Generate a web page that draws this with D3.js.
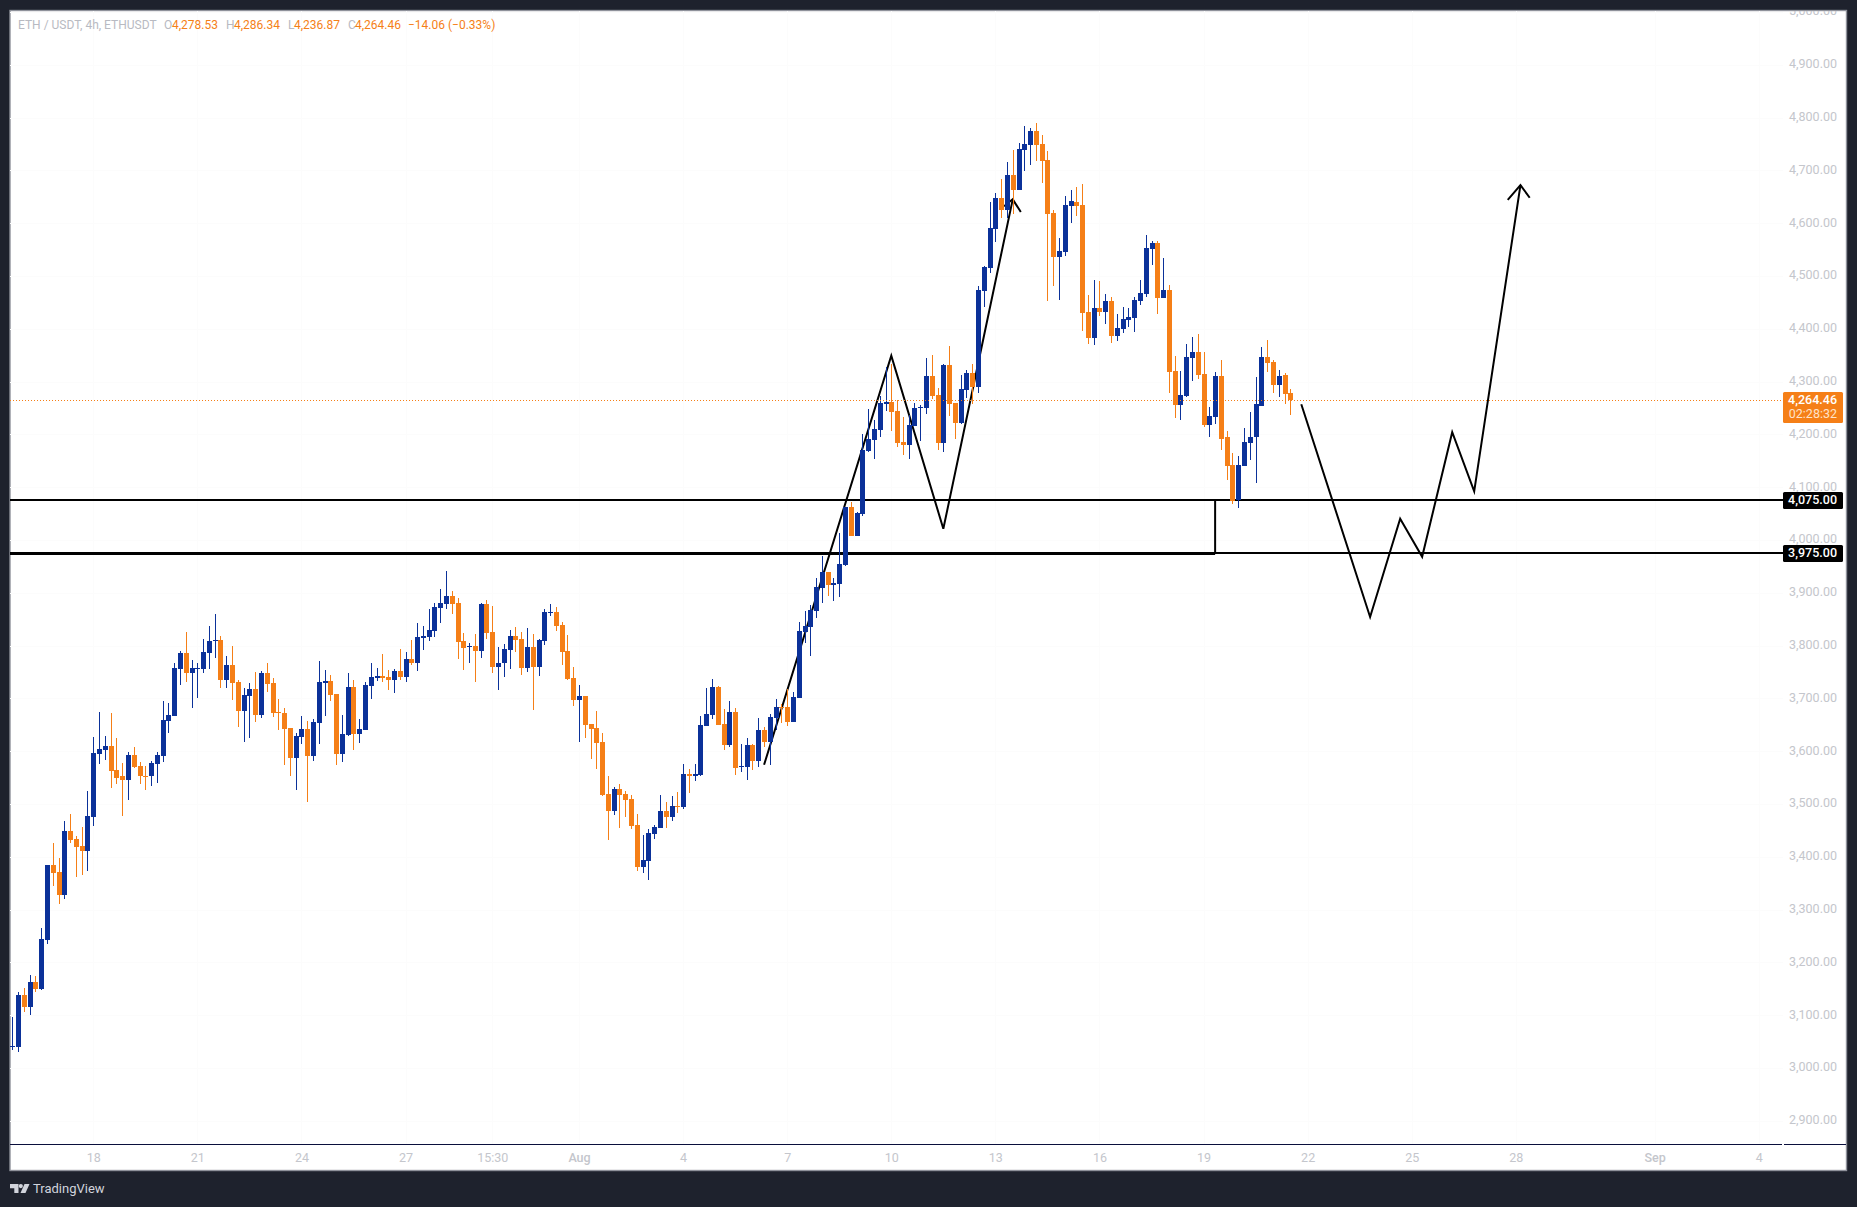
<!DOCTYPE html>
<html><head><meta charset="utf-8">
<script src="https://cdn.jsdelivr.net/npm/d3@7"></script>
<style>html,body{margin:0;padding:0;background:#1e222d;overflow:hidden}svg{display:block}text{font-family:Roboto,sans-serif}</style>
</head><body><svg id="c" width="1857" height="1207"></svg>
<script>
const opens=[3040,3040,3139,3115,3162,3150,3242,3384,3371,3328,3449,3434,3420,3411,3475,3594,3602,3610,3565,3552,3546,3592,3571,3553,3552,3575,3590,3657,3667,3756,3785,3748,3757,3756,3785,3808,3810,3735,3764,3731,3676,3704,3718,3668,3747,3729,3674,3672,3644,3587,3627,3642,3590,3653,3729,3733,3708,3594,3630,3722,3632,3640,3724,3739,3743,3741,3735,3752,3741,3775,3767,3814,3816,3827,3871,3879,3894,3881,3808,3797,3799,3789,3879,3825,3760,3766,3791,3818,3812,3758,3797,3760,3808,3862,3863,3839,3789,3739,3697,3705,3651,3644,3617,3519,3487,3529,3519,3510,3460,3380,3392,3443,3454,3487,3475,3496,3494,3557,3552,3555,3647,3668,3722,3651,3611,3674,3570,3570,3611,3581,3640,3617,3663,3684,3684,3655,3701,3825,3835,3865,3909,3940,3915,3917,3953,4062,4007,4049,4169,4190,4208,4257,4261,4244,4186,4180,4215,4250,4250,4311,4274,4184,4331,4259,4221,4284,4316,4290,4471,4515,4589,4647,4624,4691,4662,4739,4748,4775,4750,4720,4619,4536,4545,4632,4640,4634,4431,4383,4439,4431,4452,4387,4400,4416,4420,4452,4466,4551,4563,4458,4473,4320,4255,4272,4345,4356,4314,4217,4233,4311,4194,4142,4076,4140,4184,4194,4253,4347,4337,4293,4312,4278.53];
const highs=[3096,3144,3152,3176,3174,3265,3384,3426,3397,3468,3481,3439,3456,3525,3627,3674,3629,3672,3625,3577,3598,3608,3579,3571,3581,3598,3695,3691,3767,3789,3825,3773,3767,3812,3837,3860,3818,3780,3799,3735,3720,3729,3750,3752,3766,3739,3699,3682,3644,3634,3667,3657,3661,3771,3754,3745,3708,3668,3748,3735,3661,3731,3767,3758,3783,3754,3756,3793,3787,3810,3843,3837,3869,3881,3907,3942,3903,3890,3823,3804,3822,3881,3886,3875,3797,3803,3829,3835,3825,3833,3822,3812,3869,3879,3873,3844,3820,3760,3726,3705,3651,3676,3634,3553,3532,3538,3525,3517,3481,3441,3452,3460,3517,3504,3515,3523,3575,3566,3575,3667,3720,3737,3724,3680,3695,3682,3613,3625,3613,3663,3646,3670,3699,3689,3718,3712,3844,3865,3877,3928,3970,3940,3928,4013,4062,4072,4053,4200,4248,4227,4272,4328,4333,4265,4233,4236,4259,4255,4345,4351,4288,4333,4368,4259,4312,4322,4333,4481,4519,4640,4657,4683,4716,4739,4752,4784,4780,4790,4767,4737,4624,4572,4651,4662,4668,4674,4464,4492,4490,4465,4460,4427,4441,4439,4460,4492,4578,4566,4566,4534,4483,4349,4320,4371,4385,4390,4356,4252,4318,4341,4206,4165,4159,4212,4242,4309,4366,4379,4341,4322,4316,4286.34];
const lows=[3033,3031,3105,3101,3144,3147,3235,3345,3311,3320,3426,3361,3365,3373,3458,3575,3583,3531,3538,3477,3508,3568,3538,3527,3534,3540,3579,3634,3667,3726,3731,3682,3701,3748,3756,3776,3720,3720,3697,3646,3617,3625,3655,3663,3712,3665,3640,3573,3553,3527,3613,3504,3581,3613,3667,3695,3573,3579,3629,3602,3615,3640,3699,3733,3731,3716,3710,3735,3731,3764,3752,3791,3808,3816,3843,3869,3860,3775,3754,3767,3731,3776,3812,3748,3716,3741,3756,3787,3745,3750,3678,3743,3801,3856,3827,3764,3735,3686,3617,3625,3585,3566,3515,3432,3479,3454,3475,3453,3373,3369,3355,3434,3454,3454,3468,3483,3491,3521,3544,3552,3647,3661,3649,3602,3608,3555,3561,3546,3565,3570,3608,3573,3640,3653,3647,3655,3701,3804,3780,3852,3881,3894,3884,3892,3951,4007,4007,4045,4167,4154,4194,4244,4206,4176,4161,4154,4215,4188,4238,4267,4171,4167,4234,4192,4219,4269,4257,4278,4441,4506,4565,4610,4610,4617,4662,4698,4710,4718,4676,4452,4481,4454,4538,4601,4614,4396,4371,4369,4424,4408,4373,4377,4392,4404,4394,4445,4460,4521,4428,4458,4278,4231,4227,4271,4301,4305,4213,4195,4219,4171,4114,4068,4060,4140,4152,4108,4253,4318,4278,4271,4257,4236.87];
const closes=[3042,3139,3115,3162,3150,3244,3384,3369,3328,3449,3432,3418,3411,3477,3596,3604,3610,3563,3550,3546,3592,3570,3552,3552,3577,3592,3659,3668,3758,3785,3748,3758,3758,3787,3808,3810,3735,3764,3729,3676,3707,3718,3668,3747,3727,3672,3672,3642,3587,3629,3642,3590,3655,3731,3733,3707,3594,3632,3722,3632,3642,3726,3741,3743,3739,3735,3752,3741,3775,3767,3816,3818,3829,3873,3881,3894,3879,3806,3795,3799,3789,3879,3823,3760,3767,3793,3818,3810,3758,3797,3760,3810,3863,3863,3837,3787,3737,3697,3705,3649,3642,3615,3517,3487,3529,3517,3508,3458,3380,3394,3445,3456,3487,3475,3496,3494,3557,3552,3557,3649,3670,3722,3649,3611,3674,3568,3571,3611,3581,3640,3617,3665,3684,3682,3655,3703,3827,3837,3867,3911,3940,3915,3919,3955,4062,4007,4051,4171,4192,4210,4259,4261,4242,4184,4180,4217,4250,4252,4311,4272,4184,4331,4257,4221,4286,4316,4290,4473,4517,4591,4647,4624,4691,4662,4740,4750,4775,4748,4718,4617,4536,4547,4634,4641,4632,4429,4383,4439,4431,4452,4387,4402,4418,4422,4454,4467,4553,4563,4458,4473,4318,4255,4274,4347,4356,4312,4217,4234,4311,4192,4140,4074,4142,4186,4195,4257,4347,4335,4293,4311,4276,4264.46];

const priceTicks=[5000,4900,4800,4700,4600,4500,4400,4300,4200,4100,4000,3900,3800,3700,3600,3500,3400,3300,3200,3100,3000,2900];
const timeTickBars=[14,32,50,68,83,98,116,134,152,170,188,206,224,242,260,284,302];
const timeTickLabels=["18","21","24","27","15:30","Aug","4","7","10","13","16","19","22","25","28","Sep","4"];
const zoneTop=4075, zoneBottom=3975, zoneEndBar=208;
const lastPrice=4264.46, countdown="02:28:32";
const waveA=[[130,3574],[152,4349],[161,4021],[173,4645]];
const arrowA=[[171.5,4632],[173,4645],[174.4,4621]];
const waveB=[[222.9,4257],[234.8,3854],[240,4040],[243.8,3968],[249,4204],[252.8,4092],[260.8,4672]];
const arrowB=[[258.6,4644],[260.8,4672],[262.4,4648]];
const header=[["ETH / USDT, 4h, ETHUSDT",18,"l"],["O",164,"l"],["4,278.53",172,"v"],["H",226,"l"],["4,286.34",234,"v"],["L",288,"l"],["4,236.87",294,"v"],["C",348,"l"],["4,264.46",355,"v"],["−14.06 (−0.33%)",408,"v"]];

const BLUE="#0b3199",ORANGE="#f57f17",TICK="#c4c6cc";
const svg=d3.select("#c");
const L=10,T=11,R=1846,B=1170,AX=1783,XB=1144;
svg.append("rect").attr("x",0).attr("y",0).attr("width",1857).attr("height",1207).attr("fill","#1e222d");
svg.append("rect").attr("x",10).attr("y",10.5).attr("width",R-10+.5).attr("height",B-10).attr("fill","#fff").attr("stroke","#8f929b").attr("stroke-width",1.4);
const defs=svg.append("defs");
defs.append("clipPath").attr("id","plot").append("rect").attr("x",L).attr("y",T).attr("width",AX-L).attr("height",XB-T);
defs.append("clipPath").attr("id","full").append("rect").attr("x",L).attr("y",T).attr("width",R-L).attr("height",B-T);

const x=d3.scaleLinear().domain([0,221]).range([12.3,1290.3]);
const y=d3.scaleLinear().domain([5000,2900]).range([11.9,1120.7]);

// grid
const grid=svg.append("g").attr("clip-path","url(#plot)").attr("stroke","#fcfcfc").attr("shape-rendering","crispEdges");
grid.selectAll("line.h").data(priceTicks).join("line").attr("class","h").attr("x1",L).attr("x2",AX).attr("y1",d=>Math.round(y(d))+.5).attr("y2",d=>Math.round(y(d))+.5);
grid.selectAll("line.v").data(timeTickBars).join("line").attr("class","v").attr("y1",T).attr("y2",XB).attr("x1",d=>Math.round(x(d))+.5).attr("x2",d=>Math.round(x(d))+.5);

// drawings (under the candles)
const line=d3.line().x(d=>x(d[0])).y(d=>y(d[1]));
const draw=svg.append("g").attr("clip-path","url(#plot)").attr("fill","none").attr("stroke","#000");
const yT=Math.round(y(zoneTop)),yB=Math.round(y(zoneBottom));
draw.append("line").attr("x1",L).attr("x2",AX).attr("y1",yT).attr("y2",yT).attr("stroke-width",2);
draw.append("line").attr("x1",L).attr("x2",AX).attr("y1",yB).attr("y2",yB).attr("stroke-width",2);
draw.append("line").attr("x1",L).attr("x2",x(zoneEndBar)).attr("y1",yB+.5).attr("y2",yB+.5).attr("stroke-width",3);
draw.append("line").attr("x1",x(zoneEndBar)).attr("x2",x(zoneEndBar)).attr("y1",yT).attr("y2",yB).attr("stroke-width",2);
[waveA,arrowA,waveB,arrowB].forEach(p=>draw.append("path").attr("d",line(p)).attr("stroke-width",2).attr("stroke-linejoin","miter"));

// candles
const bars=d3.range(opens.length);
const cg=svg.append("g").attr("clip-path","url(#plot)").attr("shape-rendering","crispEdges");
const col=i=>closes[i]>=opens[i]?BLUE:ORANGE;
cg.selectAll("rect.w").data(bars).join("rect").attr("class","w")
 .attr("x",i=>Math.round(x(i))).attr("width",1)
 .attr("y",i=>Math.round(y(highs[i]))).attr("height",i=>Math.max(1,Math.round(y(lows[i]))-Math.round(y(highs[i]))))
 .attr("fill",col);
cg.selectAll("rect.b").data(bars).join("rect").attr("class","b")
 .attr("x",i=>Math.round(x(i))-2).attr("width",5)
 .attr("y",i=>Math.round(y(Math.max(opens[i],closes[i]))))
 .attr("height",i=>Math.max(1,Math.round(y(Math.min(opens[i],closes[i])))-Math.round(y(Math.max(opens[i],closes[i])))))
 .attr("fill",col);

// last price line
svg.append("line").attr("x1",L).attr("x2",AX-2).attr("y1",Math.round(y(lastPrice))+.5).attr("y2",Math.round(y(lastPrice))+.5)
 .attr("stroke",ORANGE).attr("stroke-dasharray","1,2").attr("shape-rendering","crispEdges");

// axes
const yAxis=d3.axisRight(y).tickValues(priceTicks).tickSize(0).tickPadding(0).tickFormat(d3.format(",.2f"));
const ya=svg.append("g").attr("clip-path","url(#full)").append("g").attr("transform",`translate(${R-9},0)`).call(yAxis);
ya.select(".domain").remove();
ya.selectAll("text").attr("text-anchor","end").attr("x",0).attr("dy","0.32em").attr("font-size",12.5).attr("fill",TICK).attr("transform","translate(0,-1)").style("font-family","Roboto");

const xAxis=d3.axisBottom(x).tickValues(timeTickBars).tickSize(0).tickPadding(0).tickFormat((d,i)=>timeTickLabels[i]);
const xa=svg.append("g").attr("transform",`translate(0,${XB+9})`).call(xAxis);
xa.select(".domain").remove();
xa.selectAll("text").attr("dy","0.71em").attr("font-size",12.5).attr("fill",TICK).attr("font-weight",(d,i)=>/[A-Z]/.test(timeTickLabels[i])?500:400).style("font-family","Roboto");

svg.append("line").attr("x1",L).attr("x2",AX-1).attr("y1",XB+.5).attr("y2",XB+.5).attr("stroke","#0a0f3c").attr("shape-rendering","crispEdges");
svg.append("line").attr("x1",AX+1).attr("x2",R).attr("y1",XB+.5).attr("y2",XB+.5).attr("stroke","#0a0f3c").attr("shape-rendering","crispEdges");

// price tags
const tag=(val,h,fill,lines)=>{
  const yc=Math.round(y(val));
  svg.append("rect").attr("x",AX).attr("y",yc-8).attr("width",R-AX-3).attr("height",h).attr("rx",1.5).attr("fill",fill);
  lines.forEach((t,k)=>svg.append("text").attr("x",R-9).attr("y",yc+k*13.5).attr("dy","0.34em").attr("text-anchor","end")
   .attr("font-size",12.5).attr("font-weight",k?400:500).attr("fill",k?"#ffe3c9":"#fff").text(t));
};
const fmt=d3.format(",.2f");
tag(lastPrice,31,ORANGE,[fmt(lastPrice),countdown]);
tag(zoneTop,17,"#000",[fmt(zoneTop)]);
tag(zoneBottom,17,"#000",[fmt(zoneBottom)]);

// header legend
svg.selectAll("text.h").data(header).join("text").attr("class","h").attr("x",d=>d[1]).attr("y",25).attr("dy","0.34em")
 .attr("font-size",12).attr("fill",d=>d[2]==="l"?"#b8bac2":"#f57f17").text(d=>d[0]);

// footer logo
const logo=svg.append("g").attr("fill","#d1d4dc").attr("transform","translate(10,1184)");
logo.append("path").attr("d","M0 0H8.5V9H4.3V4.2H0Z");
logo.append("circle").attr("cx",10.8).attr("cy",2.1).attr("r",2.1);
logo.append("path").attr("d","M14.5 0H19.5L15.5 9H10.5Z");
svg.append("text").attr("x",33).attr("y",1189).attr("dy","0.34em").attr("font-size",13).attr("fill","#d1d4dc").text("TradingView");
</script></body></html>
